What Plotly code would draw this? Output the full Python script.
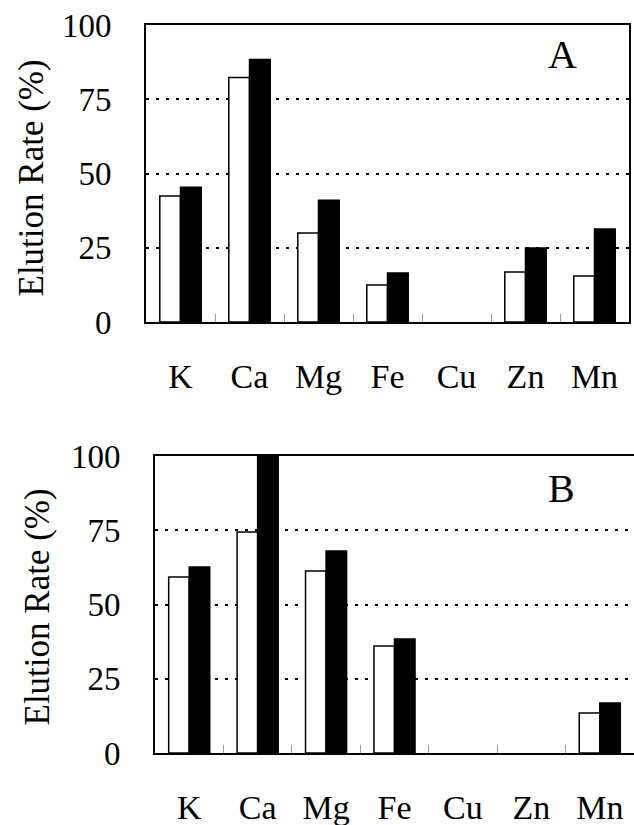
import plotly.graph_objects as go

elements = ["K", "Ca", "Mg", "Fe", "Cu", "Zn", "Mn"]
a_white = [42.4, 82.3, 30.0, 12.5, 0, 16.8, 15.5]
a_black = [45.4, 88.4, 41.0, 16.5, 0, 24.9, 31.3]
b_white = [59.3, 74.4, 61.3, 36.0, 0, 0, 13.5]
b_black = [62.6, 100.0, 68.0, 38.4, 0, 0, 16.8]
y_ticks = [0, 25, 50, 75, 100]

W, H = 634, 825
FONT = "Liberation Serif"

def outline(vals):
    return [0 if v == 0 else 1.5 for v in vals]

fig = go.Figure()
fig.add_trace(go.Bar(x=elements, y=a_white, marker=dict(color="white", line=dict(color="black", width=outline(a_white))),
                     xaxis="x", yaxis="y", showlegend=False))
fig.add_trace(go.Bar(x=elements, y=a_black, marker=dict(color="black", line=dict(color="black", width=outline(a_black))),
                     xaxis="x", yaxis="y", showlegend=False))
fig.add_trace(go.Bar(x=elements, y=b_white, marker=dict(color="white", line=dict(color="black", width=outline(b_white))),
                     xaxis="x2", yaxis="y2", showlegend=False))
fig.add_trace(go.Bar(x=elements, y=b_black, marker=dict(color="black", line=dict(color="black", width=outline(b_black))),
                     xaxis="x2", yaxis="y2", showlegend=False))

def px_x(v):
    return v / W

def px_y(v):
    return 1 - v / H

xcommon = dict(showline=True, linecolor="black", linewidth=2, mirror=True,
               ticks="inside", tickson="boundaries", ticklen=8, tickwidth=1, tickcolor="#999999",
               tickfont=dict(family=FONT, size=34, color="black"), ticklabelstandoff=23,
               showgrid=False, zeroline=False, fixedrange=True, automargin=False)
ycommon = dict(range=[0, 100], tickvals=y_ticks, showline=True, linecolor="black", linewidth=2, mirror=True,
               ticks="", tickfont=dict(family=FONT, size=33, color="black"), ticklabelstandoff=26,
               showgrid=True, gridcolor="black", gridwidth=1.5, griddash="3px,7px",
               zeroline=False, fixedrange=True, automargin=False)

fig.update_layout(
    width=W, height=H,
    margin=dict(l=0, r=0, t=0, b=0),
    paper_bgcolor="white", plot_bgcolor="white",
    barmode="group", bargap=0.4, bargroupgap=0,
    xaxis=dict(domain=[px_x(146), px_x(629)], anchor="y", **xcommon),
    yaxis=dict(domain=[px_y(322), px_y(25)], anchor="x", **ycommon),
    xaxis2=dict(domain=[px_x(155), 1.0], anchor="y2", **xcommon),
    yaxis2=dict(domain=[px_y(753), px_y(456)], anchor="x2", **ycommon),
    annotations=[
        dict(text="Elution Rate (%)", xref="paper", yref="paper", x=px_x(31), y=px_y(178.5),
             textangle=-90, showarrow=False, font=dict(family=FONT, size=35, color="black"),
             xanchor="center", yanchor="middle"),
        dict(text="Elution Rate (%)", xref="paper", yref="paper", x=px_x(37), y=px_y(607.5),
             textangle=-90, showarrow=False, font=dict(family=FONT, size=35, color="black"),
             xanchor="center", yanchor="middle"),
        dict(text="A", xref="paper", yref="paper", x=px_x(562), y=px_y(55),
             showarrow=False, font=dict(family=FONT, size=40, color="black"),
             xanchor="center", yanchor="middle"),
        dict(text="B", xref="paper", yref="paper", x=px_x(561), y=px_y(488),
             showarrow=False, font=dict(family=FONT, size=40, color="black"),
             xanchor="center", yanchor="middle"),
    ],
)

fig.write_html("out.html")
